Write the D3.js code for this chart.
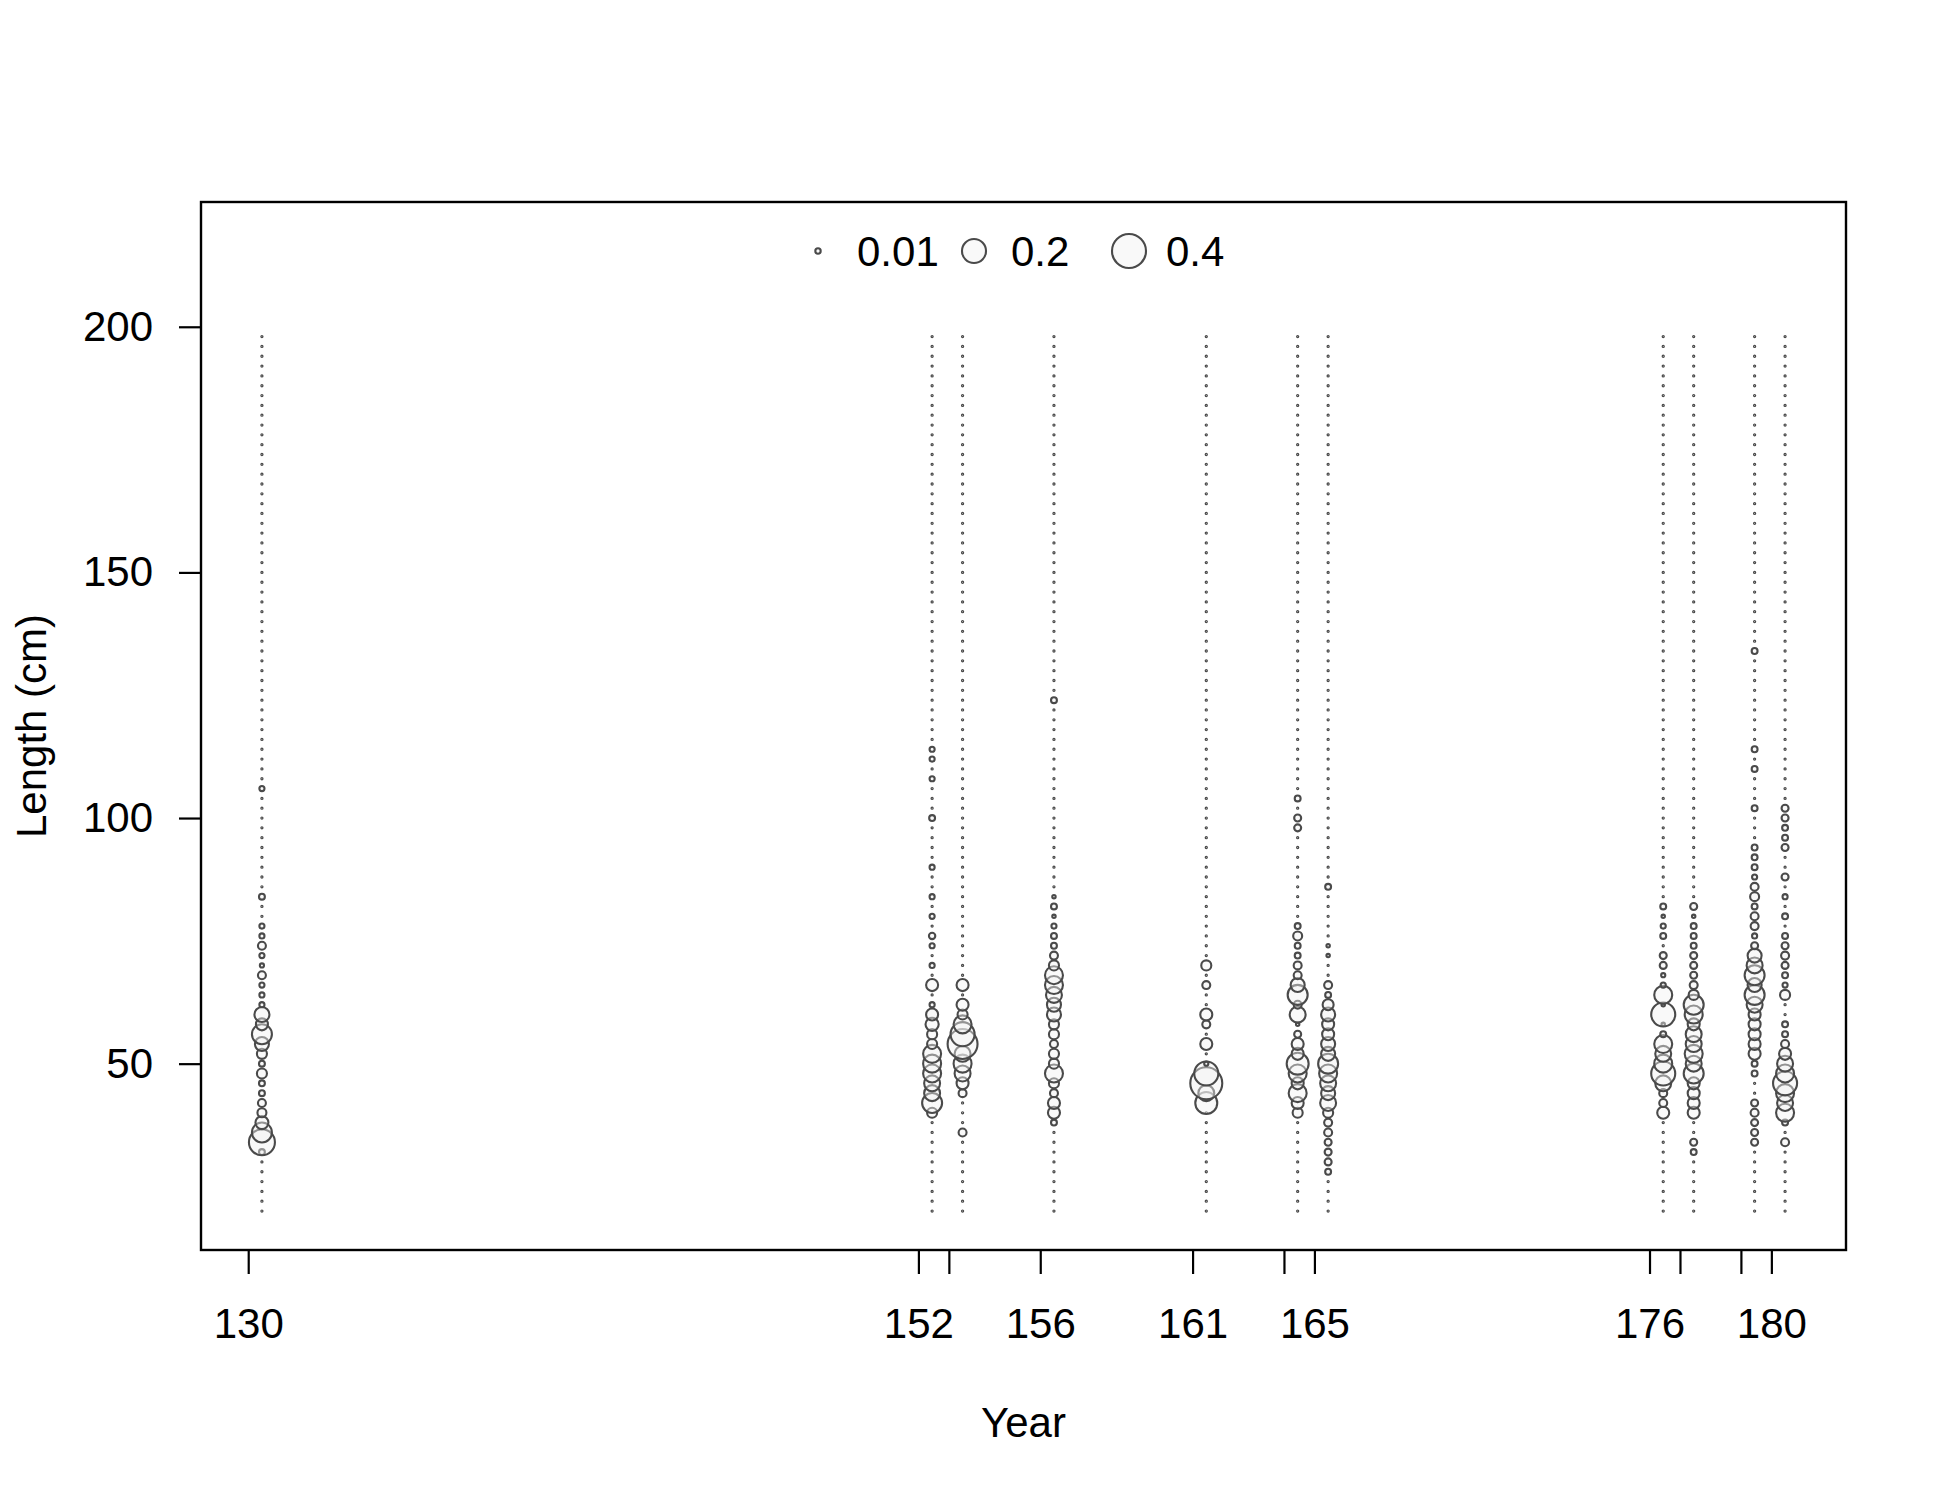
<!DOCTYPE html>
<html>
<head>
<meta charset="utf-8">
<script src="https://cdn.jsdelivr.net/npm/d3@7"></script>
<style>
  html, body { margin: 0; padding: 0; background: #ffffff; }
  svg { display: block; }
  text { font-family: "Liberation Sans", Arial, sans-serif; fill: #000; }
</style>
</head>
<body>
<svg id="chart" width="1950" height="1500"></svg>
<script>
// ---------------- data ----------------
const lengthBins = [20,22,24,26,28,30,32,34,36,38,40,42,44,46,48,50,52,54,56,58,60,62,64,66,68,70,72,74,76,78,80,82,84,86,88,90,92,94,96,98,100,102,104,106,108,110,112,114,116,118,120,122,124,126,128,130,132,134,136,138,140,142,144,146,148,150,152,154,156,158,160,162,164,166,168,170,172,174,176,178,180,182,184,186,188,190,192,194,196,198];

const years = [130, 152, 153, 156, 161, 164, 165, 176, 177, 179, 180];
const tickLabels = ["130", "152", "", "156", "161", "", "165", "176", "", "", "180"];
const yTicks = [50, 100, 150, 200];
const legendValues = [0.01, 0.2, 0.4];
const legendLabels = ["0.01", "0.2", "0.4"];

// observed proportions [length, proportion]; bins not listed are 0
const comp130 = [[32,0.012],[34,0.234],[36,0.138],[38,0.058],[40,0.028],[42,0.022],[44,0.012],[46,0.012],[48,0.035],[50,0.012],[52,0.035],[54,0.068],[56,0.138],[58,0.05],[60,0.078],[62,0.009],[64,0.009],[66,0.009],[68,0.022],[70,0.006],[72,0.009],[74,0.022],[76,0.009],[78,0.009],[84,0.012],[106,0.009]];
const comp152 = [[40,0.035],[42,0.138],[44,0.088],[46,0.088],[48,0.112],[50,0.112],[52,0.112],[54,0.035],[56,0.035],[58,0.06],[60,0.05],[62,0.009],[66,0.05],[70,0.009],[74,0.009],[76,0.014],[80,0.009],[84,0.009],[90,0.009],[100,0.012],[108,0.009],[112,0.009],[114,0.009]];
const comp153 = [[36,0.022],[44,0.022],[46,0.05],[48,0.088],[50,0.112],[52,0.088],[54,0.31],[56,0.2],[58,0.112],[60,0.035],[62,0.05],[66,0.05]];
const comp156 = [[38,0.012],[40,0.05],[42,0.05],[44,0.022],[46,0.035],[48,0.112],[50,0.035],[52,0.035],[54,0.022],[56,0.035],[58,0.035],[60,0.068],[62,0.068],[64,0.088],[66,0.112],[68,0.112],[70,0.035],[72,0.022],[74,0.012],[76,0.012],[78,0.009],[80,0.004],[82,0.012],[84,0.004],[124,0.012]];
const comp161 = [[42,0.167],[44,0.088],[46,0.354],[48,0.2],[50,0.006],[54,0.05],[58,0.022],[60,0.05],[66,0.022],[70,0.035]];
const comp164 = [[40,0.035],[42,0.05],[44,0.112],[46,0.05],[48,0.112],[50,0.167],[52,0.05],[54,0.05],[56,0.017],[58,0.004],[60,0.088],[62,0.022],[64,0.138],[66,0.068],[68,0.022],[70,0.022],[72,0.012],[74,0.012],[76,0.028],[78,0.012],[98,0.017],[100,0.017],[104,0.012]];
const comp165 = [[28,0.012],[30,0.017],[32,0.017],[34,0.017],[36,0.022],[38,0.022],[40,0.035],[42,0.088],[44,0.068],[46,0.088],[48,0.112],[50,0.138],[52,0.068],[54,0.068],[56,0.05],[58,0.05],[60,0.068],[62,0.042],[64,0.012],[66,0.022],[72,0.004],[74,0.004],[86,0.012]];
const comp176 = [[40,0.05],[42,0.022],[44,0.022],[46,0.088],[48,0.2],[50,0.112],[52,0.088],[54,0.112],[56,0.012],[58,0.004],[60,0.2],[62,0.004],[64,0.112],[66,0.009],[68,0.006],[70,0.017],[72,0.017],[76,0.012],[78,0.009],[80,0.004],[82,0.012]];
const comp177 = [[32,0.012],[34,0.017],[40,0.05],[42,0.05],[44,0.05],[46,0.05],[48,0.138],[50,0.088],[52,0.112],[54,0.088],[56,0.088],[58,0.05],[60,0.112],[62,0.138],[64,0.035],[66,0.022],[68,0.017],[70,0.017],[72,0.017],[74,0.012],[76,0.012],[78,0.012],[80,0.004],[82,0.017]];
const comp179 = [[34,0.017],[36,0.017],[38,0.017],[40,0.022],[42,0.017],[48,0.012],[50,0.012],[52,0.05],[54,0.05],[56,0.05],[58,0.05],[60,0.05],[62,0.088],[64,0.138],[66,0.068],[68,0.138],[70,0.088],[72,0.068],[74,0.017],[76,0.009],[78,0.022],[80,0.022],[82,0.012],[84,0.028],[86,0.022],[88,0.009],[90,0.012],[92,0.012],[94,0.012],[102,0.012],[110,0.012],[114,0.012],[134,0.012]];
const comp180 = [[34,0.022],[38,0.012],[40,0.112],[42,0.088],[44,0.112],[46,0.2],[48,0.112],[50,0.088],[52,0.05],[54,0.022],[56,0.012],[58,0.012],[64,0.035],[66,0.009],[68,0.012],[70,0.017],[72,0.022],[74,0.017],[76,0.012],[80,0.012],[84,0.009],[88,0.017],[94,0.017],[96,0.012],[98,0.012],[100,0.017],[102,0.017]];

const comps = [comp130, comp152, comp153, comp156, comp161, comp164, comp165, comp176, comp177, comp179, comp180];
const sampleTimeOffset = 0.45; // samples plotted part-way through the year

// build the full table (every year x every bin)
const table = [];
years.forEach((yr, i) => {
  const m = new Map(comps[i]);
  lengthBins.forEach(L => {
    table.push({ year: yr, time: yr + sampleTimeOffset, length: L, value: m.has(L) ? m.get(L) : 0 });
  });
});

// ---------------- layout ----------------
const svg = d3.select("#chart");
const plot = { left: 201, right: 1846, top: 202, bottom: 1250 };
const FONT = 42;

const x = d3.scaleLinear().domain([128.45, 182.45]).range([plot.left, plot.right]);
const y = d3.scaleLinear().domain([12.07, 225.4]).range([plot.bottom, plot.top]);
const r = d3.scaleSqrt().domain([0, 0.4]).range([0, 17]);
const minR = 0.6;

const strokeCol = "#4a4a4a";
const fillCol = "rgba(241,241,241,0.44)";

// bubbles
svg.append("g")
  .selectAll("circle")
  .data(table)
  .join("circle")
  .attr("cx", d => x(d.time))
  .attr("cy", d => y(d.length))
  .attr("r", d => Math.max(r(d.value), minR))
  .attr("fill", fillCol)
  .attr("stroke", strokeCol)
  .attr("stroke-width", 2.1);

// box
svg.append("rect")
  .attr("x", plot.left).attr("y", plot.top)
  .attr("width", plot.right - plot.left).attr("height", plot.bottom - plot.top)
  .attr("fill", "none").attr("stroke", "#000").attr("stroke-width", 2.4);

// x axis
const xAxis = d3.axisBottom(x)
  .tickValues(years)
  .tickFormat((d, i) => tickLabels[i])
  .tickSize(24)
  .tickPadding(34);
const gx = svg.append("g").attr("transform", `translate(0,${plot.bottom})`).call(xAxis);
gx.select(".domain").remove();
gx.selectAll(".tick line").attr("stroke", "#000").attr("stroke-width", 2.2);
gx.selectAll(".tick text").attr("font-size", FONT).attr("font-family", "Liberation Sans, Arial, sans-serif").attr("fill", "#000");

// y axis
const yAxis = d3.axisLeft(y)
  .tickValues(yTicks)
  .tickSize(22)
  .tickPadding(26);
const gy = svg.append("g").attr("transform", `translate(${plot.left},0)`).call(yAxis);
gy.select(".domain").remove();
gy.selectAll(".tick line").attr("stroke", "#000").attr("stroke-width", 2.2);
gy.selectAll(".tick text").attr("font-size", FONT).attr("font-family", "Liberation Sans, Arial, sans-serif").attr("fill", "#000");

// axis titles
svg.append("text")
  .attr("x", (plot.left + plot.right) / 2)
  .attr("y", 1437)
  .attr("text-anchor", "middle")
  .attr("font-size", FONT)
  .text("Year");

svg.append("text")
  .attr("transform", `translate(46,${(plot.top + plot.bottom) / 2}) rotate(-90)`)
  .attr("text-anchor", "middle")
  .attr("font-size", FONT)
  .text("Length (cm)");

// legend
const legendCx = [818, 974, 1129];
const legendTx = [857, 1011, 1166];
const legendY = 251;
const lg = svg.append("g");
legendValues.forEach((v, i) => {
  lg.append("circle")
    .attr("cx", legendCx[i]).attr("cy", legendY)
    .attr("r", r(v))
    .attr("fill", fillCol)
    .attr("stroke", strokeCol)
    .attr("stroke-width", 2.1);
  lg.append("text")
    .attr("x", legendTx[i]).attr("y", legendY)
    .attr("dy", "0.36em")
    .attr("font-size", FONT)
    .text(legendLabels[i]);
});
</script>
</body>
</html>
